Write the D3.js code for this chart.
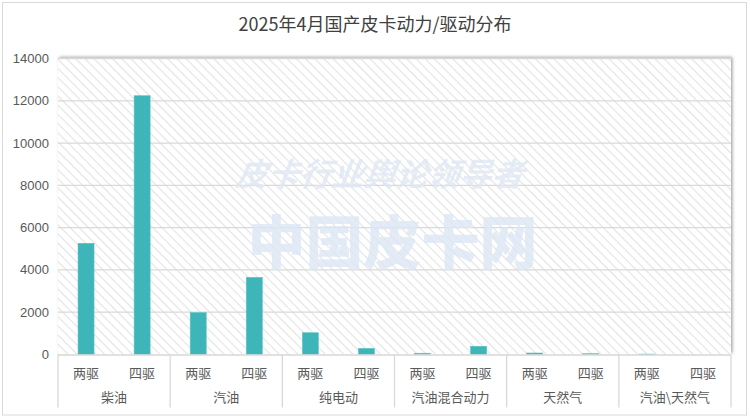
<!DOCTYPE html>
<html><head><meta charset="utf-8">
<script src="https://cdn.jsdelivr.net/npm/d3@7"></script>
<style>body{margin:0;background:#fff;}svg{display:block;font-family:"Noto Sans CJK SC","Microsoft YaHei",sans-serif;}</style>
</head><body><svg id="c" width="750" height="418"></svg>
<script>
const title = "2025年4月国产皮卡动力/驱动分布";
const groups = ["柴油","汽油","纯电动","汽油混合动力","天然气","汽油\\天然气"];
const drives = ["两驱","四驱"];
const values2WD = [5260, 1980, 1030, 60, 70, 20];
const values4WD = [12240, 3650, 290, 390, 40, 0];
const yTicks = [0,2000,4000,6000,8000,10000,12000,14000];

const svg = d3.select("#c");
const W=750,H=418;
const m={l:58,r:19,t:58.5,b:63.5};
const pw=W-m.l-m.r, ph=H-m.t-m.b;

const defs=svg.append("defs");
const pat=defs.append("pattern").attr("id","hatch").attr("patternUnits","userSpaceOnUse")
  .attr("width",6.5).attr("height",6.5).attr("patternTransform","rotate(45)");
pat.append("rect").attr("width",6.5).attr("height",6.5).attr("fill","#fff");
pat.append("line").attr("x1",0).attr("y1",0).attr("x2",6.5).attr("y2",0).attr("stroke","#e3e3e3").attr("stroke-width",2.2);
const f=defs.append("filter").attr("id","sh").attr("x","-5%").attr("y","-5%").attr("width","110%").attr("height","110%");
f.append("feDropShadow").attr("dx",1.5).attr("dy",-1.5).attr("stdDeviation",1.5).attr("flood-color","#000").attr("flood-opacity",0.35);

// outer border
svg.append("rect").attr("x",2.5).attr("y",2.5).attr("width",744).attr("height",412.5)
  .attr("fill","#fff").attr("stroke","#d9d9d9").attr("stroke-width",1);

svg.append("text").attr("x",375).attr("y",31).attr("text-anchor","middle")
  .attr("font-size",18).attr("fill","#404040").text(title);

const g=svg.append("g").attr("transform",`translate(${m.l},${m.t})`);
g.append("rect").attr("width",pw).attr("height",ph).attr("fill","url(#hatch)").attr("filter","url(#sh)");

const y=d3.scaleLinear().domain([0,14000]).range([ph,0]);
const x0=d3.scaleBand().domain(groups).range([0,pw]);
const x1=d3.scaleBand().domain(drives).range([0,x0.bandwidth()]);

// gridlines
g.append("g").selectAll("line").data(yTicks.slice(1)).join("line")
  .attr("x1",0).attr("x2",pw).attr("y1",d=>y(d)).attr("y2",d=>y(d))
  .attr("stroke","#d9d9d9").attr("stroke-width",1.3);

// watermark
const wm=g.append("g").attr("opacity",0.8);
wm.append("text").attr("x",pw/2+2).attr("y",128).attr("text-anchor","middle")
  .attr("font-size",32).attr("font-style","italic").attr("fill","#dfe8f5")
  .attr("transform","skewX(-8)").attr("font-weight","bold").text("皮卡行业舆论领导者");
wm.append("text").attr("x",pw/2-2).attr("y",205).attr("text-anchor","middle")
  .attr("font-size",58).attr("font-weight","900").attr("fill","#dde7f5").text("中国皮卡网");

// y axis labels
g.append("g").selectAll("text").data(yTicks).join("text")
  .attr("x",-9).attr("y",d=>y(d)).attr("dy","0.35em").attr("text-anchor","end")
  .attr("font-size",13).attr("fill","#595959").attr("font-family","Liberation Sans, Arial, sans-serif").text(d=>d);

// bars
const rows=groups.map((gname,i)=>({g:gname,vals:[{d:drives[0],v:values2WD[i]},{d:drives[1],v:values4WD[i]}]}));
const bw=16;
const gg=g.append("g").selectAll("g").data(rows).join("g").attr("transform",d=>`translate(${x0(d.g)},0)`);
gg.selectAll("rect").data(d=>d.vals.filter(v=>v.v>0)).join("rect")
  .attr("x",d=>x1(d.d)+x1.bandwidth()/2-bw/2).attr("width",bw)
  .attr("y",d=>y(d.v)).attr("height",d=>ph-y(d.v))
  .attr("fill","#3db5b9").attr("stroke","#5cc4c7").attr("stroke-width",0.6);

// x axis
g.append("line").attr("x1",0).attr("x2",pw).attr("y1",ph+0.5).attr("y2",ph+0.5).attr("stroke","#d9d9d9").attr("stroke-width",1.3);
g.append("g").selectAll("line").data(d3.range(groups.length+1)).join("line")
  .attr("x1",i=>i*x0.bandwidth()).attr("x2",i=>i*x0.bandwidth())
  .attr("y1",ph).attr("y2",ph+53).attr("stroke","#d9d9d9").attr("stroke-width",1.3);
gg.selectAll("text.sub").data(drives).join("text").attr("class","sub")
  .attr("x",d=>x1(d)+x1.bandwidth()/2).attr("y",ph+23).attr("text-anchor","middle")
  .attr("font-size",13).attr("fill","#595959").text(d=>d);
gg.append("text").attr("x",x0.bandwidth()/2).attr("y",ph+47).attr("text-anchor","middle")
  .attr("font-size",13).attr("fill","#595959").text(d=>d.g);
</script></body></html>
